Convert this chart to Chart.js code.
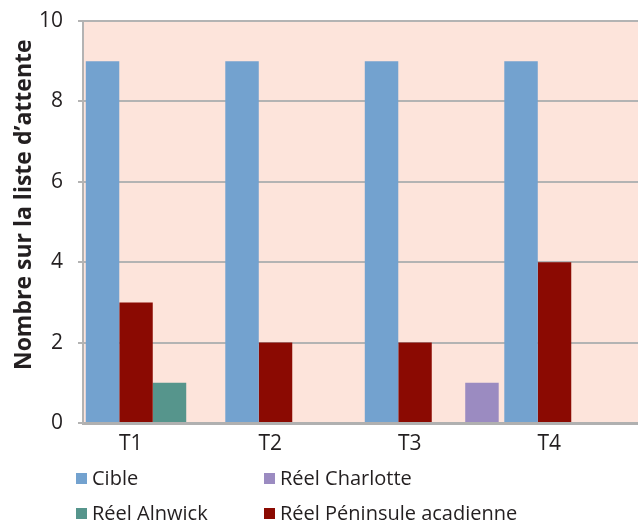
<!DOCTYPE html>
<html>
<head>
<meta charset="utf-8">
<script src="https://cdn.jsdelivr.net/npm/chart.js@4"></script>
<style>
  html, body { margin: 0; padding: 0; background: #fff; overflow: hidden; }
  #wrap { position: relative; width: 638px; height: 524px; overflow: hidden; }
  #legend { position: absolute; left: 0; top: 0; font-family: "Open Sans", sans-serif; font-size: 20px; color: #231f20; }
  .item { position: absolute; white-space: nowrap; line-height: 24px; }
  .box { position: absolute; width: 11px; height: 11px; top: 7px; left: -16px; }
</style>
</head>
<body>
<div id="wrap">
  <canvas id="chart" width="645" height="524"></canvas>
  <div id="legend"></div>
</div>
<script>
const categories = ["T1", "T2", "T3", "T4"];
const cible = [9, 9, 9, 9];
const peninsule = [3, 2, 2, 4];
const alnwick = [1, 0, 0, 0];
const charlotte = [0, 0, 1, 0];
const yTicks = [0, 2, 4, 6, 8, 10];

const colors = {
  cible: "#73a2cf",
  peninsule: "#8b0a02",
  alnwick: "#56958c",
  charlotte: "#9b8bc1"
};

// pink plot background
const plotBg = {
  id: "plotBg",
  beforeDraw(chart) {
    const a = chart.chartArea;
    const c = chart.ctx;
    c.save();
    c.fillStyle = "#fde4db";
    c.fillRect(a.left, a.top, a.right - a.left, a.bottom - a.top);
    c.restore();
  }
};

new Chart("chart", {
  type: "bar",
  data: {
    labels: categories,
    datasets: [
      { label: "Cible", data: cible, backgroundColor: colors.cible },
      { label: "Réel Péninsule acadienne", data: peninsule, backgroundColor: colors.peninsule },
      { label: "Réel Alnwick", data: alnwick, backgroundColor: colors.alnwick },
      { label: "Réel Charlotte", data: charlotte, backgroundColor: colors.charlotte }
    ]
  },
  options: {
    responsive: false,
    animation: false,
    devicePixelRatio: 1,
    categoryPercentage: 0.96,
    barPercentage: 1,
    layout: { padding: { top: 21, right: 4, bottom: 71, left: 0 } },
    scales: {
      x: {
        afterFit(axis) { axis.height = 30; axis.paddingLeft = 0; axis.paddingRight = 0; },
        grid: { display: false },
        border: { color: "#b0b0b0", width: 3 },
        ticks: { color: "#231f20", font: { family: "Open Sans", size: 21 }, padding: 0, labelOffset: -22 }
      },
      y: {
        min: 0,
        max: 10,
        afterBuildTicks(axis) { axis.ticks = yTicks.map(v => ({ value: v })); },
        afterFit(axis) { axis.width = 83; axis.paddingTop = 0; axis.paddingBottom = 0; },
        grid: { color: "#b3b3b3", lineWidth: 2, tickLength: 5 },
        border: { color: "#b3b3b3", width: 2 },
        ticks: { color: "#231f20", font: { family: "Open Sans", size: 21 }, padding: 15 },
        title: {
          display: true,
          text: "\u2002\u2002\u2002Nombre sur la liste d’attente",
          color: "#231f20",
          font: { family: "Open Sans", size: 23, weight: "bold" },
          padding: { top: 11, bottom: 0 }
        }
      }
    },
    plugins: {
      legend: { display: false },
      tooltip: { enabled: false }
    }
  },
  plugins: [plotBg]
});

// legend laid out in two columns like the original
const legendItems = [
  { text: "Cible", color: colors.cible, x: 92, y: 466 },
  { text: "Réel Charlotte", color: colors.charlotte, x: 280, y: 466 },
  { text: "Réel Alnwick", color: colors.alnwick, x: 92, y: 501 },
  { text: "Réel Péninsule acadienne", color: colors.peninsule, x: 280, y: 501 }
];
const legend = document.getElementById("legend");
legendItems.forEach(it => {
  const d = document.createElement("div");
  d.className = "item";
  d.style.left = it.x + "px";
  d.style.top = it.y + "px";
  d.textContent = it.text;
  const b = document.createElement("span");
  b.className = "box";
  b.style.background = it.color;
  d.appendChild(b);
  legend.appendChild(d);
});
</script>
</body>
</html>
